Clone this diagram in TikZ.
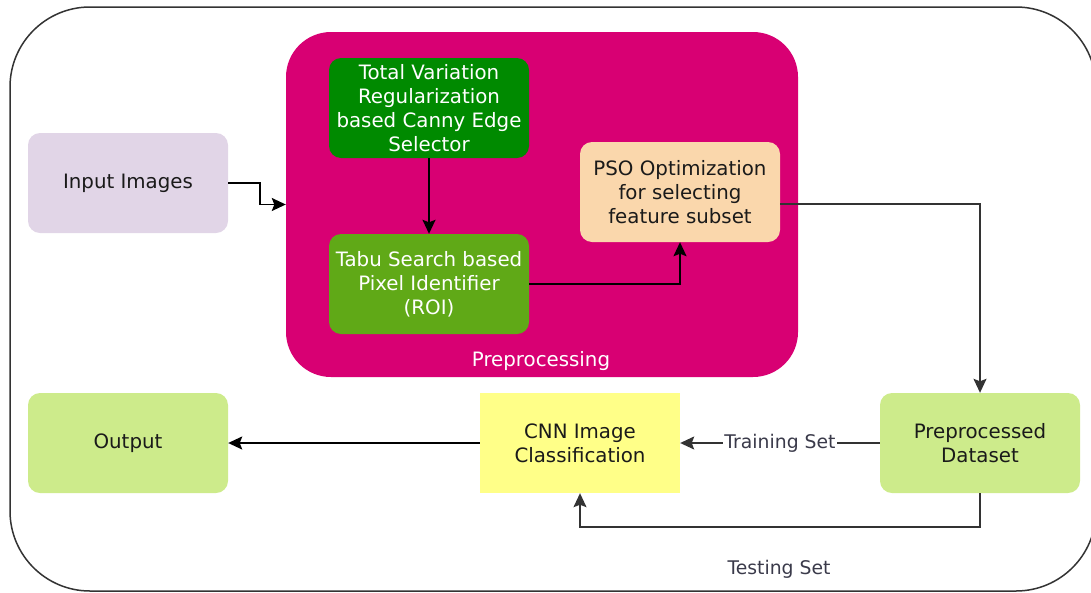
\documentclass[tikz,border=0pt]{standalone}
\usepackage{fontspec}
\setmainfont{DejaVu Sans}
\usetikzlibrary{arrows.meta}
\definecolor{outerc}{HTML}{333333}
\definecolor{magc}{HTML}{D80073}
\definecolor{dgreen}{HTML}{008A00}
\definecolor{lgreen}{HTML}{60A917}
\definecolor{peach}{HTML}{FAD7AC}
\definecolor{lilac}{HTML}{E1D5E7}
\definecolor{pale}{HTML}{CDEB8B}
\definecolor{yel}{HTML}{FFFF88}
\definecolor{txt}{HTML}{1A1A1A}
\definecolor{lbl}{HTML}{3A3A4A}
\tikzset{
  box/.style={rounded corners=12pt, minimum width=200pt, minimum height=100pt,
    inner sep=0pt, align=center, draw=none, text=txt,
    font=\fontsize{19.8}{24}\selectfont},
  arr/.style={draw=black, line width=1.8pt, -{Stealth[length=14pt,width=13pt,inset=2.5pt]}},
  arrg/.style={draw=outerc, line width=1.5pt, -{Stealth[length=14pt,width=13pt,inset=2.5pt]}},
  lab/.style={text=lbl, font=\fontsize{18.8}{22}\selectfont}
}
\begin{document}
\begin{tikzpicture}[x=1pt,y=-1pt]
\useasboundingbox (0,0) rectangle (1091,592);
\draw[outerc, line width=1.5pt, rounded corners=80pt] (10,7) rectangle (1096,591);
\node[fill=magc, rounded corners=45pt, minimum width=512pt, minimum height=345pt, inner sep=0pt] (pre) at (542,204.5) {};
\node[text=white, font=\fontsize{19.8}{24}\selectfont] (prelab) at (541,361) {Preprocessing};
\node[box, fill=dgreen, text=white] (tv) at (429,108) {Total Variation\\Regularization\\based Canny Edge\\Selector};
\node[box, fill=lgreen, text=white] (tabu) at (429,284) {Tabu Search based\\Pixel Identifier\\(ROI)};
\node[box, fill=peach] (pso) at (680,192) {PSO Optimization\\for selecting\\feature subset};
\node[box, fill=lilac] (inp) at (128,183) {Input Images};
\node[box, fill=pale] (out) at (128,443) {Output};
\node[box, fill=yel, sharp corners] (cnn) at (580,443) {CNN Image\\Classification};
\node[box, fill=pale] (ppd) at (980,443) {Preprocessed\\Dataset};
\draw[arr] (inp.east) -- ++(32,0) |- (pre.west);
\draw[arr] (tv) -- (tabu);
\draw[arr] (tabu.east) -| (pso.south);
\draw[arrg] ([yshift=-12pt]pso.east) -| (ppd.north);
\draw[arrg] (ppd.west) -- node[lab, fill=white, inner sep=1pt] (trl) {Training Set} (cnn.east);
\draw[arrg] (ppd.south) -- ++(0,34) -| (cnn.south);
\node[lab] (tsl) at (779,569) {Testing Set};
\draw[arr] (cnn.west) -- (out.east);
\end{tikzpicture}
\end{document}
